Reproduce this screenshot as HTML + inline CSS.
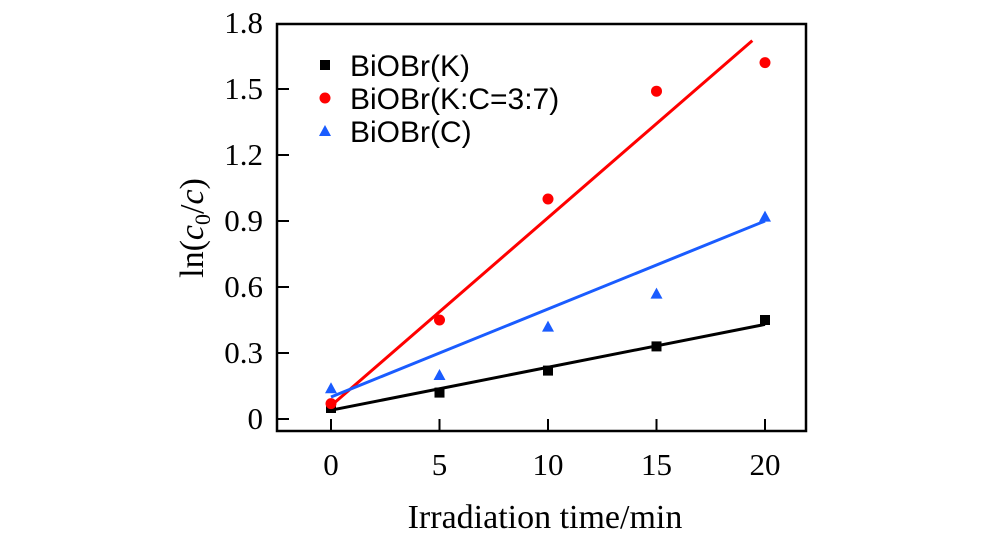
<!DOCTYPE html>
<html><head><meta charset="utf-8"><style>
html,body{margin:0;padding:0;background:#fff;}
svg{display:block;font-family:"Liberation Serif",serif;}
</style></head><body>
<svg id="chart" width="1000" height="543">
<g id="plot"></g>
</svg>
<script>
const xValues=[0,5,10,15,20];
const seriesK=[0.05,0.12,0.22,0.33,0.45];
const seriesKC=[0.07,0.45,1.0,1.49,1.62];
const seriesC=[0.14,0.2,0.42,0.57,0.92];
const fitIntercepts=[0.04,0.06,0.10];
const fitSlopes=[0.0195,0.0855,0.040];
const yTicks=[0,0.3,0.6,0.9,1.2,1.5,1.8];
const yTickLabels=["0","0.3","0.6","0.9","1.2","1.5","1.8"];
const xTicks=[0,5,10,15,20];
const xTickLabels=["0","5","10","15","20"];
const seriesNames=["BiOBr(K)","BiOBr(K:C=3:7)","BiOBr(C)"];

const NS="http://www.w3.org/2000/svg";
const g=document.getElementById('plot');
const L=277,R=806,T=24,B=431;
const X=v=>331+v*21.7;
const Y=v=>419-v*(66/0.3);
function mk(tag,attrs,parent){const e=document.createElementNS(NS,tag);for(const k in attrs)e.setAttribute(k,attrs[k]);(parent||g).appendChild(e);return e;}

const frame=mk('rect',{x:L,y:T,width:R-L,height:B-T,fill:'none',stroke:'#000','stroke-width':2.5});



yTicks.forEach((v,i)=>{
  if(i<yTicks.length-1){const t=mk('line',{x1:L,x2:L+12,y1:Y(v),y2:Y(v),stroke:'#000','stroke-width':2});
  
  }
  const tx=mk('text',{x:L-14,y:Y(v)+10,'text-anchor':'end','font-size':31});
  tx.textContent=yTickLabels[i];
  
  
});
xTicks.forEach((v,i)=>{
  const t=mk('line',{x1:X(v),x2:X(v),y1:B,y2:B-12,stroke:'#000','stroke-width':2});
  
  
  const tx=mk('text',{x:X(v),y:B+44,'text-anchor':'middle','font-size':31});
  tx.textContent=xTickLabels[i];
  
  
});

const series=[[seriesK,'#000','square'],[seriesKC,'#f00','circle'],[seriesC,'#1a5cff','triangle']];
series.forEach(([ys,col,shape],si)=>{
  const s=fitSlopes[si],b=fitIntercepts[si];
  let xe=20; if(s*xe+b>1.72) xe=(1.72-b)/s;
  const ln=mk('line',{x1:X(0),y1:Y(b),x2:X(xe),y2:Y(s*xe+b),stroke:col,'stroke-width':3});
  
  
  ys.forEach((v,i)=>{
    const cx=X(xValues[i]),cy=Y(v);let m;
    if(shape==='square')m=mk('rect',{x:cx-5,y:cy-5,width:10,height:10,fill:col});
    else if(shape==='circle')m=mk('circle',{cx:cx,cy:cy,r:5.5,fill:col});
    else m=mk('polygon',{points:`${cx},${cy-6} ${cx-6},${cy+5} ${cx+6},${cy+5}`,fill:col});
    
    
  });
  const ly=65+si*33;
  let lm;
  if(shape==='square')lm=mk('rect',{x:320,y:ly-5,width:10,height:10,fill:col});
  else if(shape==='circle')lm=mk('circle',{cx:325,cy:ly,r:5.5,fill:col});
  else lm=mk('polygon',{points:`325,${ly-6} 319,${ly+5} 331,${ly+5}`,fill:col});
  
  
  const lt=mk('text',{x:350,y:ly+11,'font-size':30,'font-family':'"Liberation Sans",sans-serif'});
  lt.textContent=seriesNames[si];
  
  
});
const xt=mk('text',{x:545,y:528,'text-anchor':'middle','font-size':34});
xt.textContent='Irradiation time/min';


const yt=mk('text',{x:0,y:0,'text-anchor':'middle','font-size':34,transform:'translate(203,228) rotate(-90)'});
yt.innerHTML='ln(<tspan font-style="italic">c</tspan><tspan font-size="22" dy="7">0</tspan><tspan dy="-7">/</tspan><tspan font-style="italic">c</tspan>)';


</script>
</body></html>
